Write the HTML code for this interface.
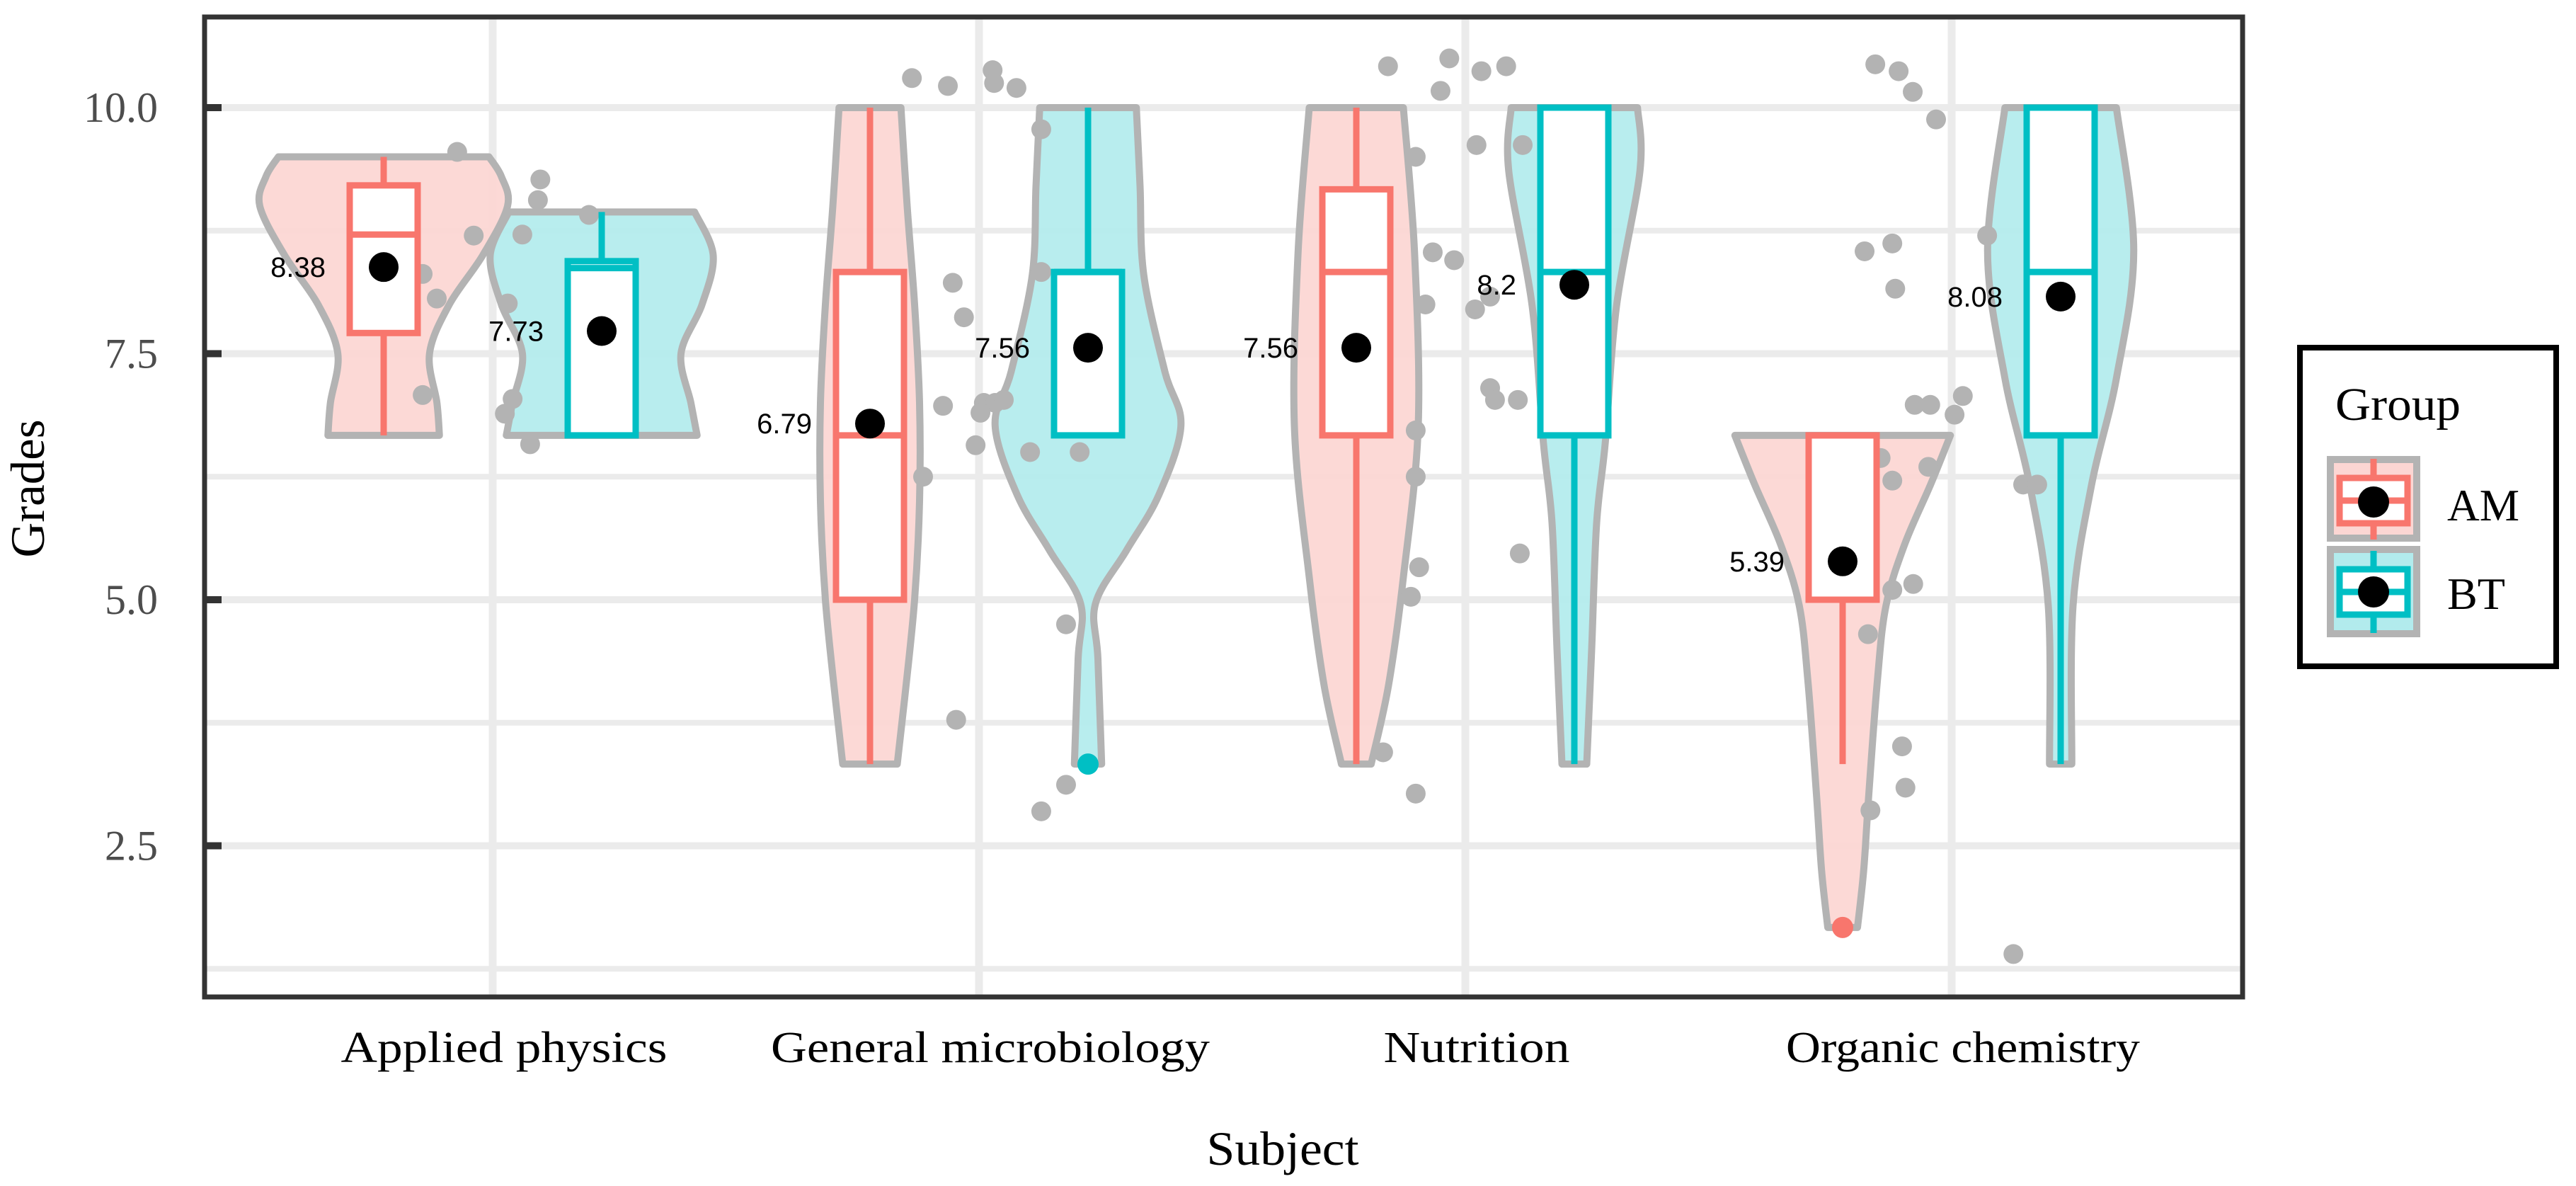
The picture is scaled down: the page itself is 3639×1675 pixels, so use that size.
<!DOCTYPE html>
<html><head><meta charset="utf-8"><style>
html,body{margin:0;padding:0;background:#fff;}
svg{display:block;}
</style></head><body>
<svg id="chart" width="3639" height="1675" viewBox="0 0 3639 1675" xmlns="http://www.w3.org/2000/svg">
<rect x="0" y="0" width="3639" height="1675" fill="#fff"/>
<g id="grid"></g>
<g id="violins"></g>
<g id="points"></g>
<g id="boxes"></g>
<g id="means"></g>
<g id="axes"></g>
<text transform="translate(62,690) rotate(-90)" text-anchor="middle" font-family="Liberation Serif, serif" font-size="68" fill="#000" textLength="195" lengthAdjust="spacingAndGlyphs">Grades</text>
<text x="1812" y="1645" text-anchor="middle" font-family="Liberation Serif, serif" font-size="68" fill="#000" textLength="215" lengthAdjust="spacingAndGlyphs">Subject</text>
<g>
<rect x="3249" y="491" width="362" height="450" fill="#fff" stroke="#000" stroke-width="8"/>
<text x="3299" y="593" font-family="Liberation Serif, serif" font-size="66" fill="#000" textLength="177" lengthAdjust="spacingAndGlyphs">Group</text>
<g>
<rect x="3287" y="644" width="132" height="121" fill="#b3b3b3"/>
<rect x="3297" y="654" width="112" height="101" fill="#fcd6d3"/>
<line x1="3353" y1="648" x2="3353" y2="762" stroke="#F8766D" stroke-width="9"/>
<rect x="3305" y="675" width="96" height="64" fill="#fff" stroke="#F8766D" stroke-width="9"/>
<line x1="3305" y1="707" x2="3401" y2="707" stroke="#F8766D" stroke-width="9"/>
<circle cx="3353" cy="709" r="22" fill="#000"/>
<text x="3457" y="735" font-family="Liberation Serif, serif" font-size="64" fill="#000" textLength="102" lengthAdjust="spacingAndGlyphs">AM</text>
</g>
<g>
<rect x="3287" y="771" width="132" height="129" fill="#b3b3b3"/>
<rect x="3297" y="781" width="112" height="109" fill="#b2ebed"/>
<line x1="3353" y1="778" x2="3353" y2="894" stroke="#00BFC4" stroke-width="9"/>
<rect x="3305" y="804" width="96" height="64" fill="#fff" stroke="#00BFC4" stroke-width="9"/>
<line x1="3305" y1="836" x2="3401" y2="836" stroke="#00BFC4" stroke-width="9"/>
<circle cx="3353" cy="836" r="22" fill="#000"/>
<text x="3457" y="860" font-family="Liberation Serif, serif" font-size="64" fill="#000" textLength="82" lengthAdjust="spacingAndGlyphs">BT</text>
</g>
</g>
</svg>
<script>
const categories = ["Applied physics","General microbiology","Nutrition","Organic chemistry"];
const groups = ["AM","BT"];
const groupColors = ["#F8766D","#00BFC4"];
const groupFills = ["#fcd6d3","#b2ebed"];
const yTicks = [2.5,5.0,7.5,10.0];
const yTickLabels = ["2.5","5.0","7.5","10.0"];
const yMinor = [1.25,3.75,6.25,8.75];
// box stats: [lowerWhisker, q1, median, q3, upperWhisker] per category per group
const boxAM = [[6.67,7.71,8.71,9.21,9.5],[3.33,5.0,6.67,8.33,10],[3.33,6.67,8.33,9.17,10],[3.33,5.0,6.67,6.67,6.67]];
const boxBT = [[6.67,6.67,8.37,8.44,8.94],[6.67,6.67,8.33,8.33,10],[3.33,6.67,8.33,10,10],[3.33,6.67,8.33,10,10]];
const meanAM = [8.38,6.79,7.56,5.39];
const meanBT = [7.73,7.56,8.2,8.08];
const meanLabelAM = ["8.38","6.79","7.56","5.39"];
const meanLabelBT = ["7.73","7.56","8.2","8.08"];
// outliers: [categoryIndex, groupIndex, value]
const outliers = [[1,1,3.33],[3,0,1.67]];
// violin density profiles: [grade, relative half-width]
const violinAM = [
 [[6.67,0.45],[7.0,0.43],[7.5,0.37],[8.0,0.53],[8.5,0.8],[9.0,1.0],[9.3,0.95],[9.5,0.85]],
 [[3.33,0.22],[4,0.28],[5,0.36],[6,0.4],[7,0.4],[8,0.36],[9,0.3],[10,0.25]],
 [[3.33,0.12],[4.13,0.26],[5.23,0.38],[6.77,0.5],[8.53,0.47],[10,0.38]],
 [[1.67,0.12],[2.25,0.17],[3.0,0.21],[4.17,0.28],[4.94,0.35],[5.56,0.5],[6.17,0.71],[6.67,0.87]]
];
const violinBT = [
 [[6.67,0.77],[7.0,0.72],[7.5,0.64],[8.0,0.81],[8.5,0.9],[8.94,0.75]],
 [[3.33,0.11],[4.4,0.08],[4.96,0.06],[5.5,0.31],[6.06,0.57],[6.77,0.75],[7.32,0.62],[8.3,0.45],[9.2,0.42],[10,0.39]],
 [[3.33,0.1],[4.5,0.14],[5.78,0.18],[6.6,0.25],[7.98,0.34],[9.36,0.53],[10,0.51]],
 [[3.33,0.09],[4.94,0.1],[6.17,0.25],[7.25,0.45],[8.55,0.59],[10,0.45]]
];
// jitter points: [categoryIndex, jitterOffset (category units), value]
const jitterCat = [0,0,0,0,0,0,0,0,0,0,0,0,0,
 1,1,1,1,1,1,1,1,1,1,1,1,1,1,1,1,1,1,1,1,1,1,
 2,2,2,2,2,2,2,2,2,2,2,2,2,2,2,2,2,2,2,2,2,2,2,
 3,3,3,3,3,3,3,3,3,3,3,3,3,3,3,3,3,3,3,3,3,3,3,3];
const jitterOff = [-0.073,-0.039,-0.144,-0.115,-0.144,0.098,0.093,0.061,0.198,0.031,0.041,0.025,0.077,
 -0.138,-0.064,0.028,0.031,0.077,0.128,-0.054,-0.031,0.128,0.01,0.033,0.051,0.003,-0.074,-0.007,-0.115,0.105,0.207,0.179,-0.047,0.128,0.179,
 -0.159,-0.033,-0.051,0.033,0.084,0.023,-0.102,0.118,-0.067,-0.023,-0.082,0.02,0.051,0.051,0.061,0.108,-0.102,-0.102,-0.095,0.112,-0.112,-0.169,-0.102,
 -0.157,-0.109,-0.08,-0.032,-0.179,-0.122,-0.116,0.073,-0.076,-0.044,0.006,0.023,-0.146,-0.122,-0.048,0.147,0.176,-0.079,-0.122,-0.172,-0.102,-0.095,-0.167,0.127];
const jitterVal = [9.55,8.70,8.31,8.06,7.08,9.27,9.06,8.71,8.91,8.01,7.04,6.89,6.58,
 10.3,10.22,10.38,10.25,10.2,9.78,8.22,7.87,8.33,7.0,7.0,7.03,6.9,6.97,6.57,6.25,6.5,6.5,4.75,3.78,2.85,3.12,
 10.42,10.5,10.17,10.37,10.42,9.62,9.5,9.62,8.53,8.45,8.0,7.95,8.08,7.15,7.03,7.03,6.72,6.25,5.33,5.47,5.03,3.45,3.03,
 10.44,10.37,10.16,9.88,8.54,8.62,8.16,8.7,6.98,6.98,6.88,7.07,6.44,6.21,6.35,6.17,6.17,5.16,5.1,4.65,3.51,3.09,2.86,1.40];

const NS="http://www.w3.org/2000/svg";
const P={l:289,r:3168,t:24,b:1408};
const yScale = v => 152 + (10 - v) * 139;
const xScale = i => 696 + i * 687;
const DODGE = 154, VW = 175, BOXW = 96;
function mk(tag, attrs, parent){const e=document.createElementNS(NS,tag);for(const k in attrs)e.setAttribute(k,attrs[k]);parent.appendChild(e);return e;}

// grid
const grid=document.getElementById('grid');
yMinor.forEach(v=>{const l=mk('line',{x1:P.l,x2:P.r,y1:yScale(v),y2:yScale(v),stroke:'#ebebeb','stroke-width':8},grid);

});
yTicks.forEach(v=>{const l=mk('line',{x1:P.l,x2:P.r,y1:yScale(v),y2:yScale(v),stroke:'#ebebeb','stroke-width':10},grid);

});
categories.forEach((c,i)=>{const l=mk('line',{x1:xScale(i),x2:xScale(i),y1:P.t,y2:P.b,stroke:'#ebebeb','stroke-width':11},grid);

});

// violins
function smooth(pts){let d='';for(let i=0;i<pts.length-1;i++){const p0=pts[Math.max(i-1,0)],p1=pts[i],p2=pts[i+1],p3=pts[Math.min(i+2,pts.length-1)];
const c1=[p1[0]+(p2[0]-p0[0])/6,p1[1]+(p2[1]-p0[1])/6],c2=[p2[0]-(p3[0]-p1[0])/6,p2[1]-(p3[1]-p1[1])/6];
d+=` C${c1[0]},${c1[1]} ${c2[0]},${c2[1]} ${p2[0]},${p2[1]}`;}return d;}
const vg=document.getElementById('violins');
[violinAM,violinBT].forEach((set,g)=>{set.forEach((prof,i)=>{
 const cx=xScale(i)+(g?DODGE:-DODGE);
 const right=prof.map(p=>[cx+p[1]*VW,yScale(p[0])]);
 const left=prof.slice().reverse().map(p=>[cx-p[1]*VW,yScale(p[0])]);
 let d=`M${right[0][0]},${right[0][1]}`+smooth(right)+` L${left[0][0]},${left[0][1]}`+smooth(left)+' Z';
 const path=mk('path',{d:d,fill:groupFills[g],'fill-opacity':0.92,stroke:'#b3b3b3','stroke-width':10,'stroke-linejoin':'round'},vg);
 
 
});});

// jitter points
const pg=document.getElementById('points');
jitterVal.forEach((v,k)=>{const c=mk('circle',{cx:xScale(jitterCat[k])+jitterOff[k]*687,cy:yScale(v),r:14,fill:'#b3b3b3'},pg);

});

// boxes
const bg=document.getElementById('boxes');
[boxAM,boxBT].forEach((set,g)=>{set.forEach((s,i)=>{
 const cx=xScale(i)+(g?DODGE:-DODGE), col=groupColors[g];
 const grp=mk('g',{},bg);
 
 
 if(s[4]>s[3]) mk('line',{x1:cx,x2:cx,y1:yScale(s[4]),y2:yScale(s[3]),stroke:col,'stroke-width':9},grp);
 if(s[0]<s[1]) mk('line',{x1:cx,x2:cx,y1:yScale(s[1]),y2:yScale(s[0]),stroke:col,'stroke-width':9},grp);
 mk('rect',{x:cx-BOXW/2,y:yScale(s[3]),width:BOXW,height:Math.max(yScale(s[1])-yScale(s[3]),0.1),fill:'#fff',stroke:col,'stroke-width':9},grp);
 mk('line',{x1:cx-BOXW/2,x2:cx+BOXW/2,y1:yScale(s[2]),y2:yScale(s[2]),stroke:col,'stroke-width':9},grp);
});});
outliers.forEach(o=>{const c=mk('circle',{cx:xScale(o[0])+(o[1]?DODGE:-DODGE),cy:yScale(o[2]),r:15,fill:groupColors[o[1]]},bg);

});

// means
const mg=document.getElementById('means');
[meanAM,meanBT].forEach((set,g)=>{set.forEach((m,i)=>{
 const cx=xScale(i)+(g?DODGE:-DODGE);
 const c=mk('circle',{cx:cx,cy:yScale(m),r:21,fill:'#000'},mg);
 
 
 const t=mk('text',{x:cx-82,y:yScale(m)+14,'text-anchor':'end','font-family':'Liberation Sans, sans-serif','font-size':40,fill:'#000'},mg);
 t.textContent=(g?meanLabelBT:meanLabelAM)[i];
 
 
});});

// axes
const ag=document.getElementById('axes');
yTicks.forEach((v,k)=>{
 const tk=mk('line',{x1:P.l,x2:P.l+24,y1:yScale(v),y2:yScale(v),stroke:'#333','stroke-width':10},ag);
 
 
 const t=mk('text',{x:223,y:yScale(v)+20,'text-anchor':'end','font-family':'Liberation Serif, serif','font-size':60,fill:'#4d4d4d'},ag);
 t.textContent=yTickLabels[k];
 
 
});
const xlW=[461,620,263,500];
categories.forEach((c,i)=>{
 const t=mk('text',{x:xScale(i)+16,y:1500,'text-anchor':'middle','font-family':'Liberation Serif, serif','font-size':62,fill:'#000',textLength:xlW[i],lengthAdjust:'spacingAndGlyphs'},ag);
 t.textContent=c;
 
 
});
const fr=mk('rect',{x:P.l,y:P.t,width:P.r-P.l,height:P.b-P.t,fill:'none',stroke:'#333','stroke-width':7},ag);


</script>
</body></html>
